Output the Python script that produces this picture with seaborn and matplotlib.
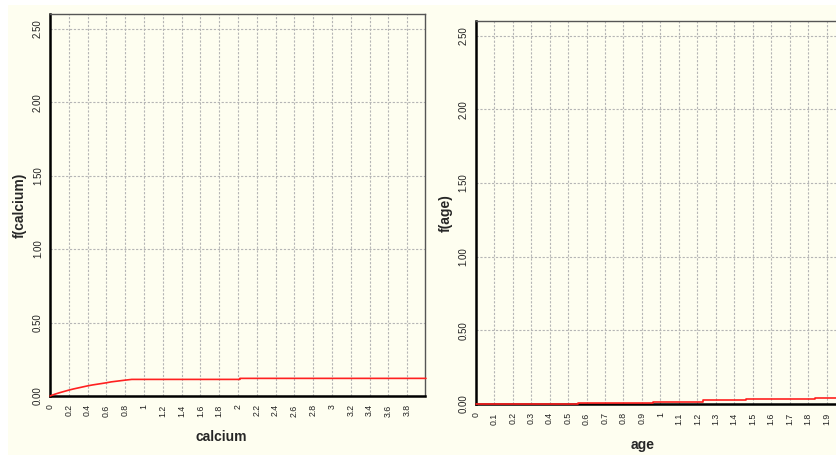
import numpy as np
import pandas as pd
import matplotlib
matplotlib.use("Agg")
import matplotlib.pyplot as plt
from matplotlib.ticker import MultipleLocator, FuncFormatter
from matplotlib.patches import Rectangle
import seaborn as sns

# ---- data ----
calcium_x = [0, 0.05, 0.1, 0.15, 0.2, 0.25, 0.3, 0.35, 0.4, 0.45, 0.5, 0.55,
             0.6, 0.65, 0.7, 0.75, 0.8, 0.87, 2.02, 2.02, 4.0]
calcium_f = [0, 0.012, 0.022, 0.031, 0.040, 0.048, 0.055, 0.062, 0.069, 0.075,
             0.080, 0.085, 0.090, 0.096, 0.100, 0.104, 0.108, 0.113, 0.113, 0.120, 0.120]

age_x = [0, 0.556, 0.958, 1.233, 1.464, 1.662, 1.837, 1.98]
age_f = [0, 0.009, 0.016, 0.025, 0.032, 0.036, 0.043, 0.043]

y_ticks = [0.0, 0.5, 1.0, 1.5, 2.0, 2.5]

sns.set_style("white")
plt.rcParams['font.family'] = ['Liberation Sans', 'DejaVu Sans']

W, H = 837, 455
fig = plt.figure(figsize=(W / 100, H / 100), dpi=100, facecolor="white")
cream = "#FEFEF0"
fig.patches.append(Rectangle((8 / W, 0), 1, 1 - 5 / H, transform=fig.transFigure,
                             facecolor=cream, edgecolor="none", zorder=-10))


def px_axes(l, t, r, b):
    return fig.add_axes([l / W, 1 - b / H, (r - l) / W, (b - t) / H])


def style(ax, xmax, xmajor, xminor):
    ax.set_facecolor(cream)
    ax.set_xlim(0, xmax)
    ax.set_ylim(0, 2.6)
    ax.xaxis.set_major_locator(MultipleLocator(xmajor))
    ax.xaxis.set_minor_locator(MultipleLocator(xminor))
    ax.set_yticks(y_ticks)
    ax.yaxis.set_minor_locator(MultipleLocator(0.125))
    ax.xaxis.set_major_formatter(FuncFormatter(lambda v, p: f"{round(v, 6):g}"))
    ax.yaxis.set_major_formatter(FuncFormatter(lambda v, p: f"{v:.2f}"))
    ax.grid(True, which="major", color="#B5B5B5", linestyle=(0, (2, 1.5)), linewidth=0.8)
    ax.set_axisbelow(True)
    for s in ["left", "bottom"]:
        ax.spines[s].set_color("black")
        ax.spines[s].set_linewidth(1.8)
    for s in ["top", "right"]:
        ax.spines[s].set_color("#555555")
        ax.spines[s].set_linewidth(1.0)
    ax.tick_params(axis="x", which="major", length=4, width=0.8, color="#555555",
                   labelsize=6.3, labelrotation=90, pad=2, labelcolor="#222222")
    ax.tick_params(axis="x", which="minor", length=2.5, width=0.6, color="#777777")
    ax.tick_params(axis="y", which="major", length=3, width=0.8, color="#555555",
                   labelsize=7, pad=2, labelcolor="#222222")
    ax.tick_params(axis="y", which="minor", length=2, width=0.6, color="#777777")
    for lab in ax.get_yticklabels():
        lab.set_rotation(90)
        lab.set_va("center")
    ax.set_xlabel("")
    ax.set_ylabel("")


# ---- left panel ----
ax1 = px_axes(50, 14, 425, 396)
df1 = pd.DataFrame({"calcium": calcium_x, "f": calcium_f})
sns.lineplot(data=df1, x="calcium", y="f", ax=ax1, color="#FF2020", linewidth=1.2,
             estimator=None, sort=False, zorder=3, clip_on=False)
style(ax1, 3.99, 0.2, 0.04)
fig.text(221 / W, 1 - 437 / H, "calcium", ha="center", va="center",
         fontsize=10, fontweight="bold")
fig.text(20 / W, 1 - 205 / H, "f(calcium)", ha="center", va="center",
         rotation=90, fontsize=10, fontweight="bold")

# ---- right panel (cut off at the image edge) ----
ax2 = px_axes(475.7, 21, 475.7 + 1.98 * 184.7, 404)
df2 = pd.DataFrame({"age": age_x, "f": age_f})
sns.lineplot(data=df2, x="age", y="f", ax=ax2, color="#FF2020", linewidth=1.2,
             drawstyle="steps-post", zorder=3, clip_on=False)
style(ax2, 1.98, 0.1, 0.02)
fig.text(643 / W, 1 - 445 / H, "age", ha="center", va="center",
         fontsize=10, fontweight="bold")
fig.text(446 / W, 1 - 213 / H, "f(age)", ha="center", va="center",
         rotation=90, fontsize=10, fontweight="bold")

fig.savefig("out.png", dpi=100, facecolor=fig.get_facecolor())
